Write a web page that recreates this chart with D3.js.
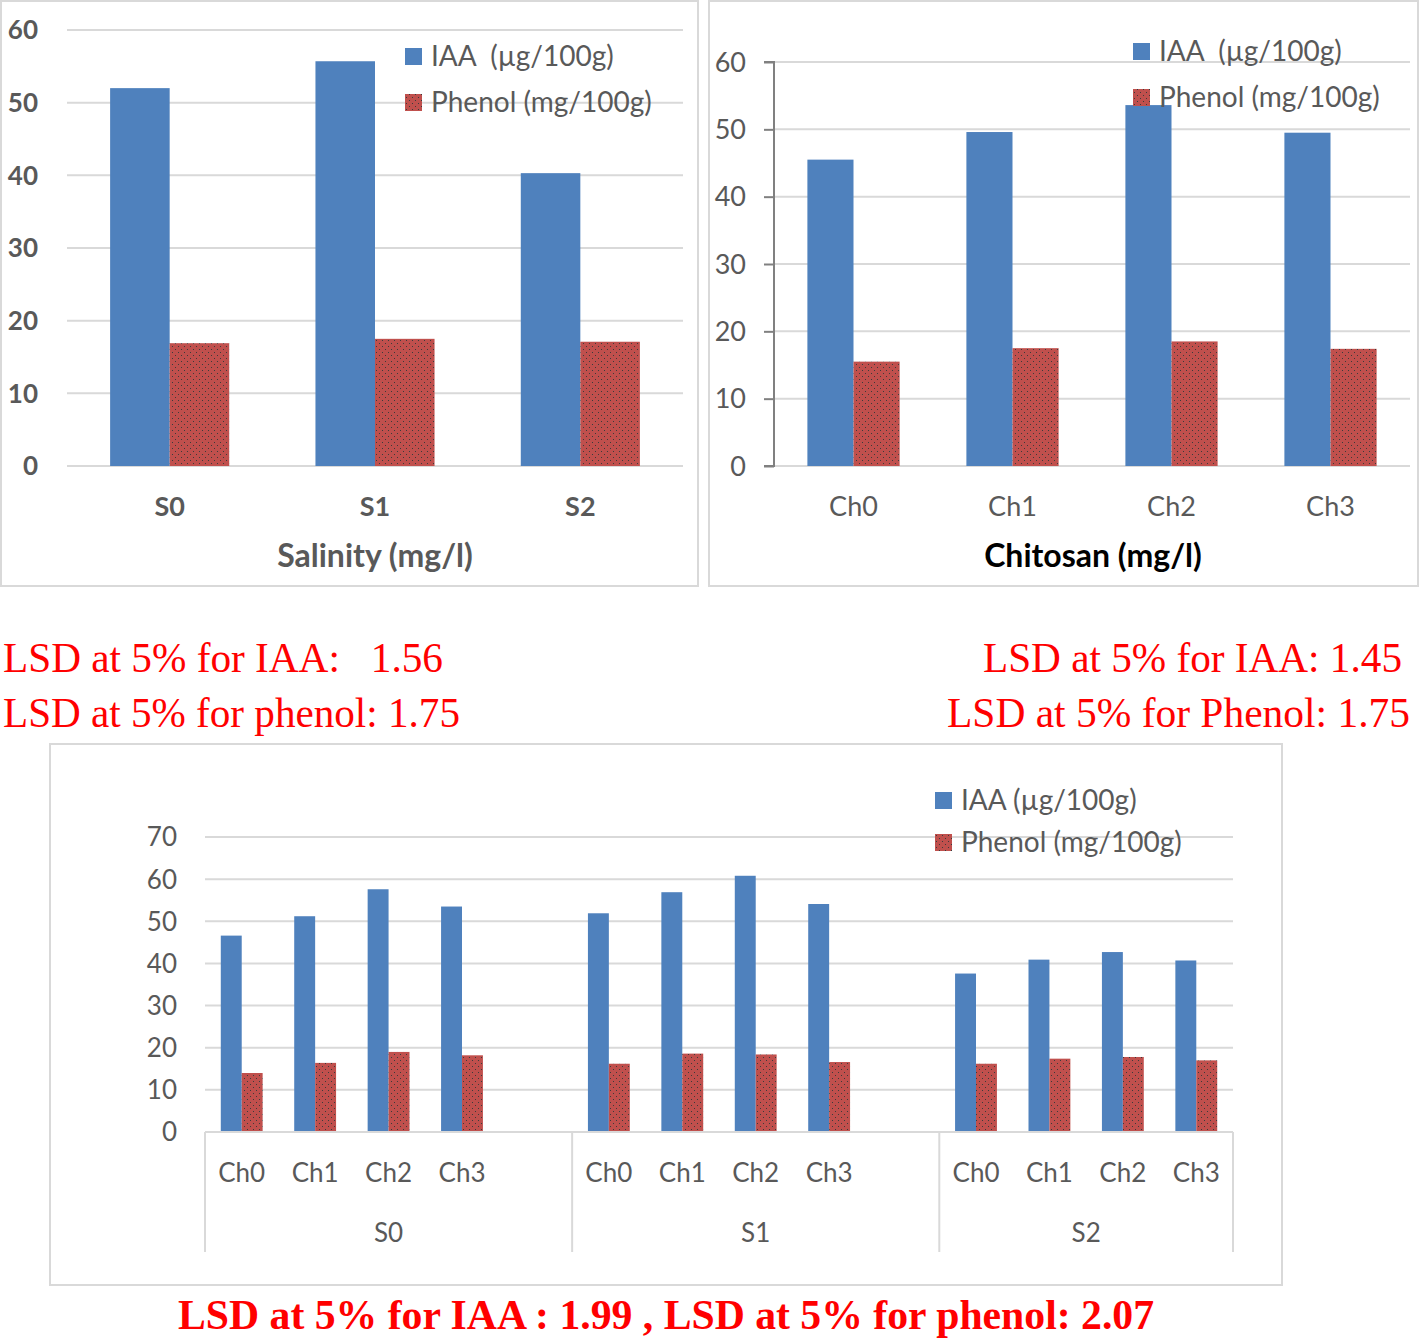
<!DOCTYPE html>
<html>
<head>
<meta charset="utf-8">
<script src="https://cdn.jsdelivr.net/npm/d3@7/dist/d3.min.js"></script>
<style>
  html, body { margin: 0; padding: 0; background: #fff; }
  svg { display: block; }
  text { white-space: pre; }
</style>
</head>
<body>
<svg id="chart" width="1420" height="1340"></svg>
<script>
// ---------------- DATA ----------------
const seriesNames = ["IAA  (µg/100g)", "Phenol (mg/100g)"];
const seriesNamesBottom = ["IAA (µg/100g)", "Phenol (mg/100g)"];

// Chart 1: salinity
const salinityCats = ["S0", "S1", "S2"];
const salinityIAA = [52.0, 55.7, 40.3];
const salinityPhenol = [16.9, 17.5, 17.1];
const salinityTicks = [0, 10, 20, 30, 40, 50, 60];

// Chart 2: chitosan
const chitosanCats = ["Ch0", "Ch1", "Ch2", "Ch3"];
const chitosanIAA = [45.5, 49.6, 53.6, 49.5];
const chitosanPhenol = [15.5, 17.5, 18.5, 17.4];
const chitosanTicks = [0, 10, 20, 30, 40, 50, 60];

// Chart 3: interaction
const groups = ["S0", "S1", "S2"];
const interIAA = [
  [46.6, 51.2, 57.6, 53.5],
  [51.9, 56.9, 60.8, 54.1],
  [37.6, 40.9, 42.7, 40.7]
];
const interPhenol = [
  [14.0, 16.4, 19.0, 18.2],
  [16.2, 18.6, 18.4, 16.6],
  [16.2, 17.4, 17.8, 17.0]
];
const interTicks = [0, 10, 20, 30, 40, 50, 60, 70];

// LSD notes
const lsdLeft = ["LSD at 5% for IAA:   1.56", "LSD at 5% for phenol: 1.75"];
const lsdRight = ["LSD at 5% for IAA: 1.45", "LSD at 5% for Phenol: 1.75"];
const lsdBottom = "LSD at 5% for IAA : 1.99 , LSD at 5% for phenol: 2.07";

// ---------------- STYLE ----------------
const BLUE = "#4F81BD", RED = "#C0504D", GRID = "#d9d9d9", TXT = "#595959";
const FONT = "Lato, 'Open Sans', sans-serif";
const SERIF = "'Liberation Serif', 'Times New Roman', serif";

const svg = d3.select("#chart");
const defs = svg.append("defs");
const pat = defs.append("pattern").attr("id", "dots")
  .attr("patternUnits", "userSpaceOnUse").attr("width", 6).attr("height", 6);
pat.append("rect").attr("width", 6).attr("height", 6).attr("fill", RED);
pat.append("rect").attr("x", 1).attr("y", 1).attr("width", 1).attr("height", 1).attr("fill", "#3b3b3b");
pat.append("rect").attr("x", 4).attr("y", 4).attr("width", 1).attr("height", 1).attr("fill", "#3b3b3b");

function frame(x, y, w, h) {
  svg.append("rect").attr("x", x).attr("y", y).attr("width", w).attr("height", h)
    .attr("fill", "none").attr("stroke", GRID).attr("stroke-width", 2);
}

function legend(x, y, names, fontSize, gap) {
  const g = svg.append("g").attr("transform", `translate(${x},${y})`);
  names.forEach((n, i) => {
    g.append("rect").attr("x", 0).attr("y", i * gap - 18).attr("width", 17).attr("height", 17)
      .attr("fill", i === 0 ? BLUE : "url(#dots)");
    g.append("text").attr("x", 26).attr("y", i * gap).attr("font-family", FONT)
      .attr("font-size", fontSize).attr("fill", TXT).text(n);
  });
}

function simpleChart(opt) {
  const x = d3.scaleBand().domain(opt.cats).range([opt.x0, opt.x1]).paddingInner(0.42).paddingOuter(0.21);
  const xs = d3.scaleBand().domain([0, 1]).range([0, x.bandwidth()]);
  const y = d3.scaleLinear().domain([0, 60]).range([opt.yb, opt.yt]);
  const g = svg.append("g");
  g.selectAll(".grid").data(opt.ticks).join("line")
    .attr("x1", opt.x0).attr("x2", opt.x1).attr("y1", d => y(d)).attr("y2", d => y(d))
    .attr("stroke", GRID).attr("stroke-width", 2);
  g.selectAll(".yl").data(opt.ticks).join("text")
    .attr("x", opt.ylx).attr("y", d => y(d)).attr("dy", "0.36em").attr("text-anchor", "end")
    .attr("font-family", FONT).attr("font-size", opt.yfs).attr("font-weight", opt.bold ? "bold" : "normal")
    .attr("fill", TXT).text(d => d);
  if (opt.axisLine) {
    const ax = d3.axisLeft(y).tickValues(opt.ticks).tickSize(10).tickFormat("");
    const ag = g.append("g").attr("transform", `translate(${opt.x0},0)`).call(ax);
    ag.selectAll("path, line").attr("stroke", "#808080").attr("stroke-width", 2);
    ag.select(".domain").attr("d", `M-10,${y(60)}H0V${y(0)}H-10`);
  }
  const vals = [opt.iaa, opt.phenol];
  opt.cats.forEach((c, i) => {
    [0, 1].forEach(s => {
      g.append("rect").attr("x", x(c) + xs(s)).attr("width", xs.bandwidth())
        .attr("y", y(vals[s][i])).attr("height", y(0) - y(vals[s][i]))
        .attr("fill", s === 0 ? BLUE : "url(#dots)");
    });
  });
  g.selectAll(".xl").data(opt.cats).join("text")
    .attr("x", d => x(d) + x.bandwidth() / 2).attr("y", opt.xly).attr("text-anchor", "middle")
    .attr("font-family", FONT).attr("font-size", opt.xfs).attr("font-weight", opt.bold ? "bold" : "normal")
    .attr("fill", TXT).text(d => d);
  g.append("text").attr("x", opt.tx).attr("y", opt.ty).attr("text-anchor", "middle")
    .attr("font-family", FONT).attr("font-size", 32).attr("font-weight", "bold")
    .attr("fill", opt.tcol).text(opt.title);
}

// ---- Chart 1 ----
frame(1, 1, 697, 585);
simpleChart({
  cats: salinityCats, iaa: salinityIAA, phenol: salinityPhenol, ticks: salinityTicks,
  x0: 67, x1: 683, yb: 466, yt: 30, ylx: 38, yfs: 26, xfs: 27, xly: 516, bold: true,
  tx: 375, ty: 567, title: "Salinity (mg/l)", tcol: TXT, axisLine: false
});
legend(405, 66, seriesNames, 28, 46);

// ---- Chart 2 ----
frame(709, 1, 709, 585);
simpleChart({
  cats: chitosanCats, iaa: chitosanIAA, phenol: chitosanPhenol, ticks: chitosanTicks,
  x0: 774, x1: 1410, yb: 466, yt: 62, ylx: 746, yfs: 27, xfs: 27, xly: 516, bold: false,
  tx: 1093, ty: 567, title: "Chitosan (mg/l)", tcol: "#000", axisLine: true
});
legend(1133, 61, seriesNames, 28, 46);

// ---- LSD texts ----
function lsdText(x, y, t, anchor, len, size, weight) {
  svg.append("text").attr("x", x).attr("y", y).attr("text-anchor", anchor)
    .attr("font-family", SERIF).attr("font-size", size).attr("font-weight", weight || "normal")
    .attr("fill", "#ff0000").attr("textLength", len).attr("lengthAdjust", "spacingAndGlyphs").text(t);
}
lsdText(3, 672, lsdLeft[0], "start", 440, 42);
lsdText(3, 727, lsdLeft[1], "start", 457, 42);
lsdText(1402, 672, lsdRight[0], "end", 419, 42);
lsdText(1410, 727, lsdRight[1], "end", 463, 42);

// ---- Chart 3 ----
frame(50, 744, 1232, 541);
(function () {
  const x0 = 205, x1 = 1233, yb = 1132, yt = 837;
  const keys = [];
  groups.forEach((g, gi) => {
    chitosanCats.forEach(c => keys.push(g + "|" + c));
    if (gi < groups.length - 1) keys.push(g + "|gap");
  });
  const x = d3.scaleBand().domain(keys).range([x0, x1]).paddingInner(0.43).paddingOuter(0.215);
  const xs = d3.scaleBand().domain([0, 1]).range([0, x.bandwidth()]);
  const y = d3.scaleLinear().domain([0, 70]).range([yb, yt]);
  const step = x.step(), off = (step - x.bandwidth()) / 2;
  const g = svg.append("g");
  g.selectAll(".grid").data(interTicks).join("line")
    .attr("x1", x0).attr("x2", x1).attr("y1", d => y(d)).attr("y2", d => y(d))
    .attr("stroke", GRID).attr("stroke-width", 2);
  g.selectAll(".yl").data(interTicks).join("text")
    .attr("x", 177).attr("y", d => y(d)).attr("dy", "0.36em").attr("text-anchor", "end")
    .attr("font-family", FONT).attr("font-size", 26).attr("fill", TXT).text(d => d);
  groups.forEach((gr, gi) => {
    chitosanCats.forEach((c, ci) => {
      const k = gr + "|" + c;
      const v = [interIAA[gi][ci], interPhenol[gi][ci]];
      [0, 1].forEach(s => {
        g.append("rect").attr("x", x(k) + xs(s)).attr("width", xs.bandwidth())
          .attr("y", y(v[s])).attr("height", yb - y(v[s]))
          .attr("fill", s === 0 ? BLUE : "url(#dots)");
      });
      g.append("text").attr("x", x(k) + x.bandwidth() / 2).attr("y", 1182).attr("text-anchor", "middle")
        .attr("font-family", FONT).attr("font-size", 26).attr("fill", TXT).text(c);
    });
  });
  const bounds = [];
  groups.forEach((gr, gi) => {
    const start = x(gr + "|" + chitosanCats[0]) - off;
    const endKey = gi < groups.length - 1 ? gr + "|gap" : gr + "|" + chitosanCats[chitosanCats.length - 1];
    const end = x(endKey) - off + step;
    bounds.push(start);
    if (gi === groups.length - 1) bounds.push(end);
    g.append("text").attr("x", (start + end) / 2).attr("y", 1242).attr("text-anchor", "middle")
      .attr("font-family", FONT).attr("font-size", 26).attr("fill", TXT).text(gr);
  });
  g.selectAll(".sep").data(bounds).join("line")
    .attr("x1", d => d).attr("x2", d => d).attr("y1", yb).attr("y2", 1252)
    .attr("stroke", GRID).attr("stroke-width", 2);
  g.append("line").attr("x1", x0).attr("x2", x1).attr("y1", yb).attr("y2", yb)
    .attr("stroke", GRID).attr("stroke-width", 2);
})();
legend(935, 810, seriesNamesBottom, 28, 42);

lsdText(666, 1329, lsdBottom, "middle", 976, 42, "bold");
</script>
</body>
</html>
